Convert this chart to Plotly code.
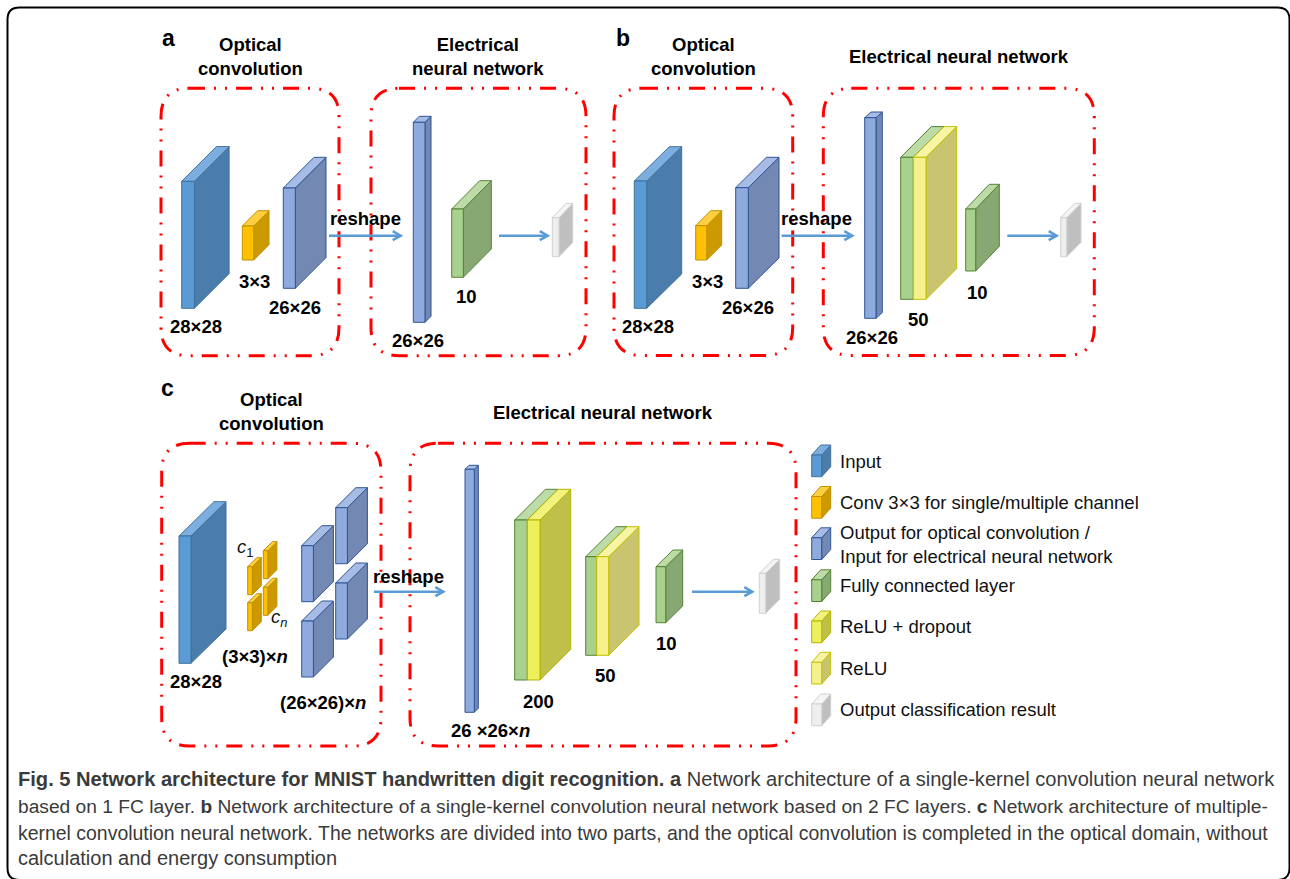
import plotly.graph_objects as go

# ---------------- data (text content) ----------------
panel_letters = ["a", "b", "c"]
optical_title = "Optical<br>convolution"
electrical_title_a = "Electrical<br>neural network"
electrical_title_bc = "Electrical neural network"
reshape_label = "reshape"
size_labels_a = ["28×28", "3×3", "26×26", "26×26", "10"]
size_labels_b = ["28×28", "3×3", "26×26", "26×26", "50", "10"]
size_labels_c = ["28×28", "(3×3)×<i>n</i>", "(26×26)×<i>n</i>", "26 ×26×<i>n</i>", "200", "50", "10"]
kernel_labels_c = ["<i>c</i><sub>1</sub>", "<i>c</i><sub><i>n</i></sub>"]
legend_kinds = ["input", "conv", "out", "fc", "relud", "relu", "cls"]
legend_labels = [
    "Input",
    "Conv 3×3 for single/multiple channel",
    "Output for optical convolution /<br>Input for electrical neural network",
    "Fully connected layer",
    "ReLU + dropout",
    "ReLU",
    "Output classification result",
]
caption_lines = [
    "<b>Fig. 5 Network architecture for MNIST handwritten digit recognition. a</b> Network architecture of a single-kernel convolution neural network",
    "based on 1 FC layer. <b>b</b> Network architecture of a single-kernel convolution neural network based on 2 FC layers. <b>c</b> Network architecture of multiple-",
    "kernel convolution neural network. The networks are divided into two parts, and the optical convolution is completed in the optical domain, without",
    "calculation and energy consumption",
]

# ---------------- styles ----------------
STY = {
    "input": dict(front="#5B9BD5", side="#4A7DAB", top="#7DAEE0", edge="#41719C"),
    "conv": dict(front="#FFC000", side="#CC9A00", top="#FFCF3F", edge="#BF9000"),
    "out": dict(front="#8FAADC", side="#7388B2", top="#A6BCE5", edge="#2F5597"),
    "fc": dict(front="#A9D18E", side="#87A872", top="#BCDBA6", edge="#548235"),
    "relud": dict(front="#EDEF5B", side="#BFC049", top="#F2F37E", edge="#B5B500"),
    "relu": dict(front="#F6F18C", side="#C9C470", top="#F8F4A6", edge="#C2C200"),
    "cls": dict(front="#EEEEEE", side="#BFBFBF", top="#F5F5F5", edge="#D0D0D0"),
}
BOLD = dict(family="Liberation Sans, Arial, sans-serif", size=18.5, color="#000000", weight="bold")
REG = dict(family="Liberation Sans, Arial, sans-serif", size=18.5, color="#111111")
RED_DASH = dict(color="#FF0000", width=3, dash="16px,9px,2px,9px,2px,9px")
ARROW_COLOR = "#5B9BD5"

W, H = 1290, 879
fig = go.Figure()
fig.add_trace(go.Scatter(x=[0], y=[0], mode="markers", marker=dict(opacity=0), hoverinfo="skip", showlegend=False))
shapes = []
annots = []


def rrect(x0, y0, x1, y1, r):
    return (f"M{x0+r},{y0} L{x1-r},{y0} Q{x1},{y0} {x1},{y0+r} L{x1},{y1-r} Q{x1},{y1} {x1-r},{y1} "
            f"L{x0+r},{y1} Q{x0},{y1} {x0},{y1-r} L{x0},{y0+r} Q{x0},{y0} {x0+r},{y0} Z")


def box(kind, x0, yt, w, h, dx, dy):
    s = STY[kind]
    x1, yb = x0 + w, yt + h
    ln = dict(color=s["edge"], width=1)
    shapes.append(dict(type="path", path=f"M{x1},{yt} L{x1+dx},{yt-dy} L{x1+dx},{yb-dy} L{x1},{yb} Z",
                       fillcolor=s["side"], line=ln, layer="above"))
    shapes.append(dict(type="path", path=f"M{x0},{yt} L{x0+dx},{yt-dy} L{x1+dx},{yt-dy} L{x1},{yt} Z",
                       fillcolor=s["top"], line=ln, layer="above"))
    shapes.append(dict(type="path", path=f"M{x0},{yt} L{x1},{yt} L{x1},{yb} L{x0},{yb} Z",
                       fillcolor=s["front"], line=ln, layer="above"))


def arrow(xs, xe, y):
    shapes.append(dict(type="line", x0=xs, y0=y, x1=xe - 1, y1=y, line=dict(color=ARROW_COLOR, width=2.5)))
    shapes.append(dict(type="path", path=f"M{xe-8},{y-4.5} L{xe},{y} L{xe-8},{y+4.5}",
                       line=dict(color=ARROW_COLOR, width=2.5)))


def text(t, x, y, font, xanchor="center"):
    annots.append(dict(text=t, x=x, y=y, xref="x", yref="y", showarrow=False, font=font,
                       xanchor=xanchor, yanchor="middle", align="left" if xanchor == "left" else "center"))


# outer frame
shapes.append(dict(type="path", path=rrect(7.5, 7.5, 1289.5, 880, 12), line=dict(color="#000000", width=2)))

# dashed group boxes
for (x0, y0, x1, y1) in [(161, 88.3, 339, 355.7), (371, 88.3, 586, 355.7),
                         (614, 88.3, 792.7, 355.5), (823.3, 88.3, 1094.3, 355.5),
                         (161.7, 443.3, 381, 746), (410, 443.3, 796, 746)]:
    shapes.append(dict(type="path", path=rrect(x0, y0, x1, y1, 28), line=RED_DASH))

# ---------------- panel a ----------------
box("input", 181.7, 181.3, 12.7, 127, 34.7, 34.7)
box("conv", 242.3, 226, 11.4, 34, 15.3, 15.3)
box("out", 283.3, 188, 12, 100.3, 30.7, 30.7)
box("out", 413.3, 122.3, 11.7, 200, 6, 6)
box("fc", 451.7, 209, 11.6, 68.3, 28, 28.3)
box("cls", 552.3, 217.7, 6.7, 39, 13.7, 14.3)
arrow(329, 400.7, 235.7)
arrow(499, 547.7, 235.7)

# ---------------- panel b ----------------
box("input", 634.3, 181, 12.4, 127.3, 35, 34.3)
box("conv", 695.7, 225.7, 11, 34.3, 15, 15)
box("out", 735.7, 187.7, 12.6, 100.6, 30.7, 30.4)
box("out", 864.7, 117.7, 11.3, 200.6, 6.3, 5.7)
box("fc", 900.7, 157.3, 12.6, 142, 30.7, 30.7)
box("relu", 913.3, 157.3, 12.7, 142, 30.7, 30.7)
box("fc", 965.7, 209, 10, 62, 23.6, 24.7)
box("cls", 1060.7, 217.7, 6, 39, 14.3, 14.4)
arrow(781.7, 852.3, 235.7)
arrow(1007.3, 1056.7, 235.7)

# ---------------- panel c ----------------
box("input", 179, 536, 12, 127.3, 35, 34.3)
for (x0, yt) in [(263.3, 550.7), (263.3, 587.3), (247.7, 566.7), (247.7, 602.7)]:
    box("conv", x0, yt, 4.6, 28, 9, 9)
for (x0, yt) in [(335.7, 507.7), (335.7, 583), (301.7, 545.7), (301.7, 621)]:
    box("out", x0, yt, 11.7, 56, 20, 20)
box("out", 465, 469.3, 9.3, 243, 4, 4)
box("fc", 514.7, 520, 12.6, 160, 30.7, 30.7)
box("relud", 527.3, 520, 12.7, 160, 30.7, 30.7)
box("fc", 585.7, 556.7, 11, 98.6, 30.3, 30)
box("relu", 596.7, 556.7, 12, 98.6, 30.3, 30)
box("fc", 656, 566.7, 9.7, 56, 17, 16.7)
box("cls", 759.3, 573.3, 6.4, 40, 14, 14)
arrow(374, 443.3, 591.7)
arrow(692, 752.3, 591.7)

# ---------------- legend ----------------
legend_icon_y = [461, 502.5, 543.8, 585.8, 627, 668.3, 710]
legend_text_y = [461, 502.7, 544.7, 585.3, 626.7, 668.3, 709.3]
for kind, lab, yi, yt in zip(legend_kinds, legend_labels, legend_icon_y, legend_text_y):
    box(kind, 811.7, yi - 6, 10, 21.7, 9, 10)
    text(lab, 838, yt, REG, xanchor="left")

# ---------------- texts ----------------
LET = dict(BOLD, size=23)
for letter, (x, y) in zip(panel_letters, [(168, 38), (622.7, 38), (167, 388)]):
    text(letter, x, y, LET)
text(optical_title, 250, 56, BOLD)
text(electrical_title_a, 478.3, 56, BOLD)
text(optical_title, 703, 56, BOLD)
text(electrical_title_bc, 959.3, 56.7, BOLD)
text(optical_title, 271, 411.7, BOLD)
text(electrical_title_bc, 602.7, 412.7, BOLD)
for (x, y) in [(365, 218.3), (816.7, 218.3), (408.3, 576.7)]:
    text(reshape_label, x, y, BOLD)

for lab, (x, y) in zip(size_labels_a, [(196, 326), (254.3, 281), (295, 307.3), (418.3, 340.7), (466, 296)]):
    text(lab, x, y, BOLD)
for lab, (x, y) in zip(size_labels_b, [(648, 326), (707.3, 281), (747.7, 307.3), (871.7, 337.3), (918.3, 319), (977.7, 292.7)]):
    text(lab, x, y, BOLD)
for lab, (x, y) in zip(size_labels_c, [(196, 681), (255, 656), (323.3, 702.7), (490, 730), (538.3, 701.7), (605.3, 675.7), (666.7, 643.3)]):
    text(lab, x, y, BOLD)
for lab, (x, y) in zip(kernel_labels_c, [(245, 548), (279, 618)]):
    text(lab, x, y, REG)

caption_sizes = [20.1, 19.2, 19.45, 20]
for line, y, sz in zip(caption_lines, [779, 806, 833, 858], caption_sizes):
    CAP = dict(family="Liberation Sans, Arial, sans-serif", size=sz, color="#3a3a3a")
    text(line, 16, y, CAP, xanchor="left")

fig.update_layout(
    width=W, height=H, margin=dict(l=0, r=0, t=0, b=0),
    paper_bgcolor="white", plot_bgcolor="white",
    xaxis=dict(range=[0, W], visible=False, fixedrange=True),
    yaxis=dict(range=[H, 0], visible=False, fixedrange=True),
    shapes=shapes, annotations=annots, showlegend=False,
)
fig.write_html("out.html", config={"displayModeBar": False},
               post_script="document.body.style.margin='0';document.body.style.overflow='hidden';")
